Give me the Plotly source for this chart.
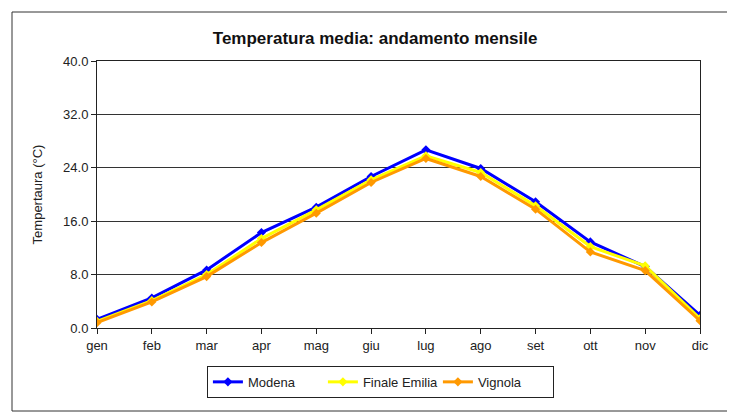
import plotly.graph_objects as go

mesi = ["gen", "feb", "mar", "apr", "mag", "giu", "lug", "ago", "set", "ott", "nov", "dic"]
modena = [1.3, 4.5, 8.7, 14.3, 18.1, 22.7, 26.7, 23.9, 18.9, 12.9, 9.2, 1.9]
finale_emilia = [1.0, 4.1, 8.0, 13.4, 17.7, 22.2, 25.8, 23.3, 18.3, 12.2, 9.3, 1.4]
vignola = [0.8, 3.9, 7.7, 12.8, 17.2, 21.8, 25.4, 22.7, 17.8, 11.4, 8.6, 1.1]
y_ticks = [0, 8, 16, 24, 32, 40]

serie = [
    ("Modena", modena, "#0000ff"),
    ("Finale Emilia", finale_emilia, "#ffff00"),
    ("Vignola", vignola, "#ff9900"),
]

fig = go.Figure()
for nome, valori, colore in serie:
    fig.add_trace(go.Scatter(
        x=mesi, y=valori, name=nome, mode="lines+markers",
        line=dict(color=colore, width=3),
        marker=dict(symbol="diamond", size=7, color=colore),
    ))

# the page adds ~8px body margin, so the figure is a bit smaller than the window
fig.update_layout(
    width=727, height=404,
    margin=dict(l=89, r=35, t=53, b=84),
    paper_bgcolor="white", plot_bgcolor="white",
    font=dict(family="Liberation Sans, Arial, sans-serif", size=13, color="#222"),
    title=dict(text="<b>Temperatura media: andamento mensile</b>",
               x=0.505, xanchor="center", y=0.925, yanchor="middle",
               font=dict(size=17, color="#111")),
    legend=dict(orientation="h", x=0.47, xanchor="center", y=-0.142, yanchor="top",
                bordercolor="#222", borderwidth=1, font=dict(size=13),
                tracegroupgap=0, entrywidth=70),
    showlegend=True,
)
fig.update_xaxes(
    range=[0, 11], showline=True, linecolor="#222", linewidth=1, mirror=True,
    ticks="outside", ticklen=5, tickcolor="#222", showgrid=False,
    tickfont=dict(size=13),
)
fig.update_yaxes(
    range=[0, 40], tickvals=y_ticks, ticktext=[f"{v:.1f}" for v in y_ticks],
    showline=True, linecolor="#222", linewidth=1, mirror=True,
    ticks="outside", ticklen=5, tickcolor="#222",
    showgrid=True, gridcolor="#333", gridwidth=1, zeroline=False,
    tickfont=dict(size=13), automargin=False,
    title=dict(text="Tempertaura (°C)", font=dict(size=13), standoff=17),
)
# outer frame: top, left and bottom edges only (right edge is off the picture)
x_left, x_right = -85 / 603, 1.2
y_bot, y_top = -83 / 267, 1 + 49 / 267
for x0, y0, x1, y1 in [(x_left, y_top, x_right, y_top),
                       (x_left, y_bot, x_left, y_top),
                       (x_left, y_bot, x_right, y_bot)]:
    fig.add_shape(type="line", xref="paper", yref="paper",
                  x0=x0, y0=y0, x1=x1, y1=y1,
                  line=dict(color="#333", width=1))

fig.write_html("out.html")
